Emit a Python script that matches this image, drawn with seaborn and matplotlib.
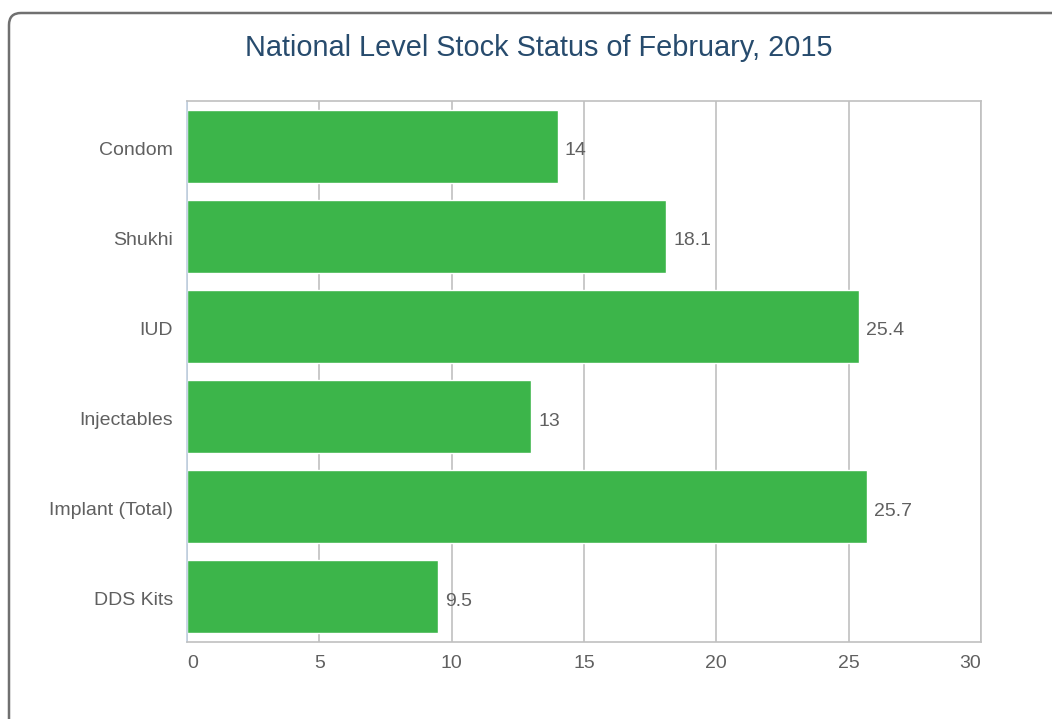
import matplotlib
matplotlib.use("Agg")
import matplotlib.pyplot as plt
import matplotlib.patches as mpatches
import matplotlib.transforms as mtransforms
import seaborn as sns
import pandas as pd

# chart data
products = ["Condom", "Shukhi", "IUD", "Injectables", "Implant (Total)", "DDS Kits"]
stock_months = [14, 18.1, 25.4, 13, 25.7, 9.5]
x_ticks = [0, 5, 10, 15, 20, 25, 30]

df = pd.DataFrame({"product": products, "months": stock_months})

sns.set_style("white")
plt.rcParams["font.family"] = ["Liberation Sans", "DejaVu Sans"]

fig = plt.figure(figsize=(10.52, 7.19), dpi=100)

# rounded outer frame (runs off the right and bottom edges)
frame = mpatches.FancyBboxPatch((0.09, -0.5), 11.0, 7.56, boxstyle="round,pad=0,rounding_size=0.12",
                                transform=fig.dpi_scale_trans, fill=False, edgecolor="#707070", linewidth=1.8)
fig.patches.append(frame)

ax = fig.add_axes([187 / 1052, 77 / 719, 794 / 1052, 541 / 719])
sns.barplot(data=df, y="product", x="months", orient="h", color="#3cb54a", saturation=1,
            width=0.81, ax=ax, zorder=2)

ax.set_xlim(0, 30)
ax.set_xticks(x_ticks)
ax.set_xticklabels([str(t) for t in x_ticks])
ax.grid(axis="x", color="#c0c0c0", linewidth=1.2, zorder=0)
ax.set_axisbelow(True)
ax.set_xlabel("")
ax.set_ylabel("")

for side in ["top", "bottom", "right"]:
    ax.spines[side].set_color("#c0c0c0")
    ax.spines[side].set_linewidth(1.2)
ax.spines["left"].set_color("#c0d0e0")
ax.spines["left"].set_linewidth(1.2)

# category boundary ticks on the left axis
ax.set_yticks([i - 0.5 for i in range(len(products) + 1)], minor=True)
ax.tick_params(axis="y", which="minor", length=6, color="#c0d0e0", width=1.2)
ax.tick_params(axis="y", which="major", length=0, pad=10, labelsize=14, labelcolor="#606060")
ax.tick_params(axis="x", length=0, pad=9, labelsize=14, labelcolor="#606060")

# nudge category labels down a touch
shift = mtransforms.ScaledTranslation(0, -2 / 100, fig.dpi_scale_trans)
for lbl in ax.get_yticklabels():
    lbl.set_transform(lbl.get_transform() + shift)

xl = ax.get_xticklabels()
xl[0].set_horizontalalignment("left")
xl[-1].set_horizontalalignment("right")

for i, v in enumerate(stock_months):
    ax.text(v + 0.27, i + 0.05, f"{v:g}", va="center", ha="left", fontsize=14, color="#606060")

fig.text(539 / 1052, 1 - 48 / 719, "National Level Stock Status of February, 2015",
         ha="center", va="center", fontsize=20.8, color="#274b6d")

fig.savefig("out.png", dpi=100)
